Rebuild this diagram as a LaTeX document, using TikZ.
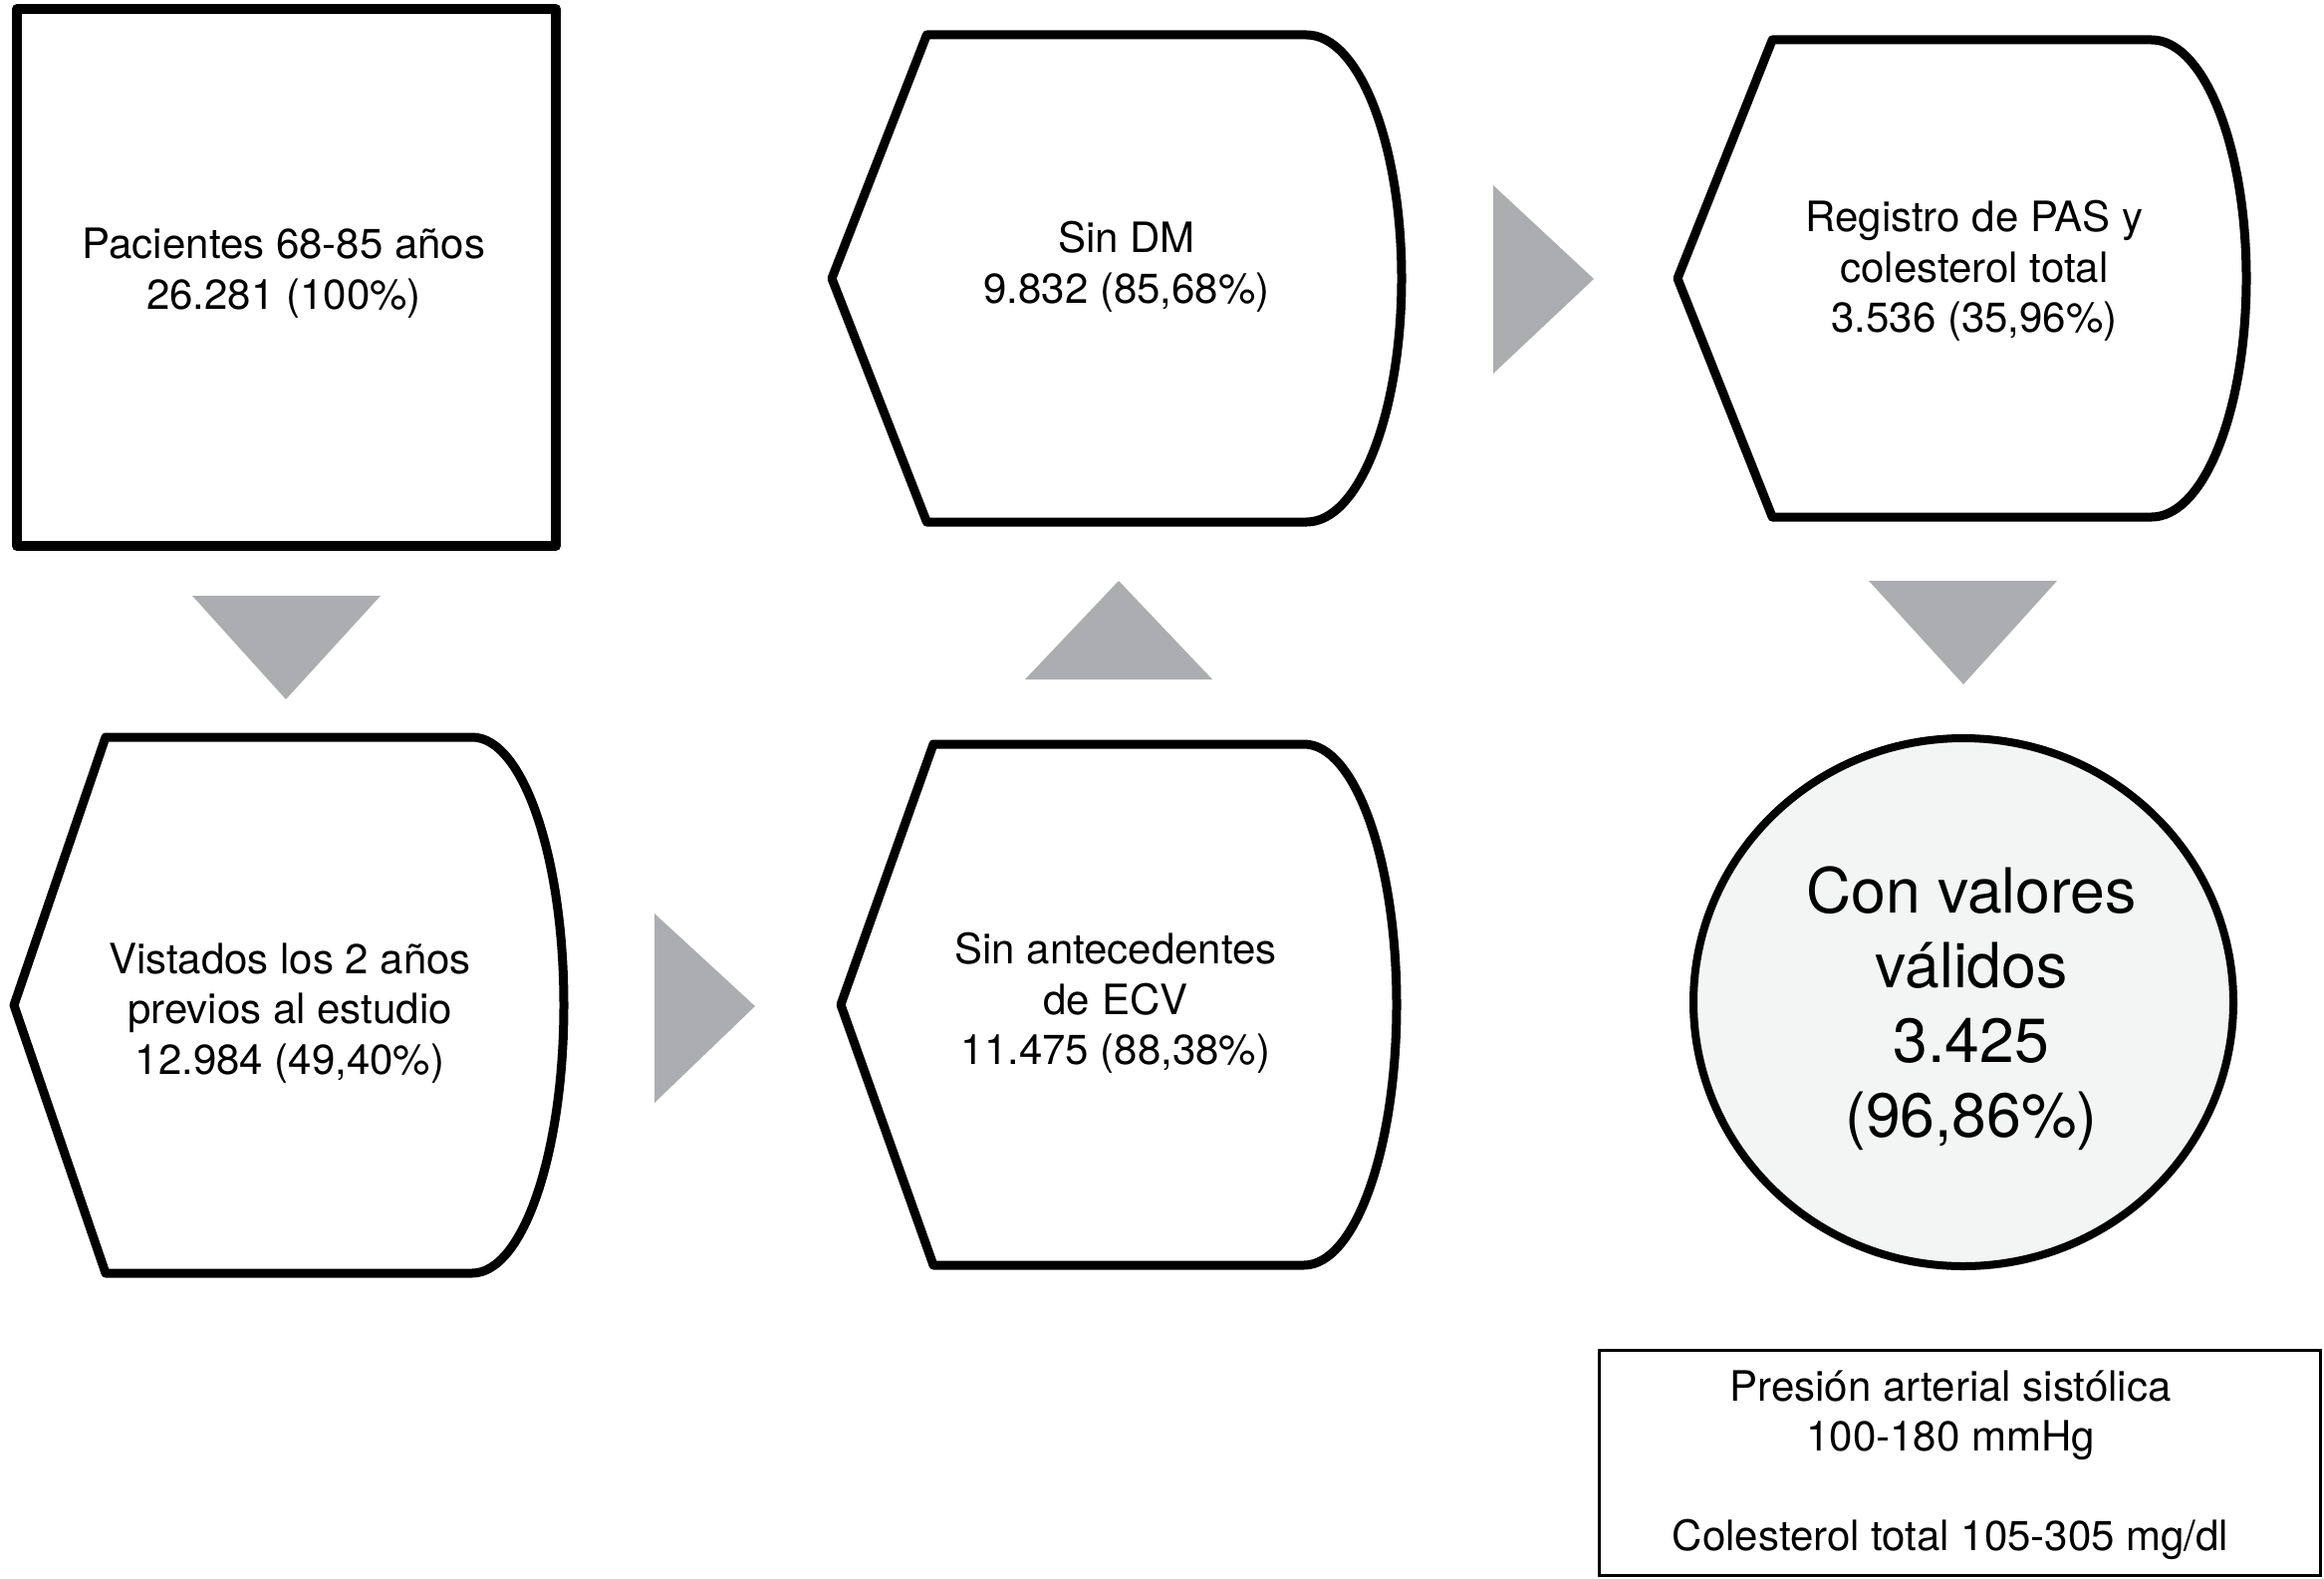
\documentclass[tikz,border=0pt]{standalone}
\usepackage{fontspec}
\setmainfont{TeX Gyre Heros}
\definecolor{arrowgray}{RGB}{172,173,177}
\definecolor{circfill}{RGB}{243,244,244}
\newcommand{\dispshape}[4]{%
  \pgfmathsetmacro{\dsA}{(#2-#1)/6}%
  \pgfmathsetmacro{\dsCL}{#1+\dsA}%
  \pgfmathsetmacro{\dsCR}{#2-\dsA}%
  \pgfmathsetmacro{\dsMY}{(#3+#4)/2}%
  \pgfmathsetmacro{\dsKX}{\dsCR+0.5523*\dsA}%
  \pgfmathsetmacro{\dsKY}{0.5523*(#4-#3)/2}%
  \pgfmathsetmacro{\dsUY}{\dsMY-\dsKY}%
  \pgfmathsetmacro{\dsDY}{\dsMY+\dsKY}%
  \draw[shapeline] (#1,\dsMY) -- (\dsCL,#3) -- (\dsCR,#3)
    .. controls (\dsKX,#3) and (#2,\dsUY) .. (#2,\dsMY)
    .. controls (#2,\dsDY) and (\dsKX,#4) .. (\dsCR,#4)
    -- (\dsCL,#4) -- cycle;%
}
\begin{document}
\begin{tikzpicture}[x=1pt,y=-1pt,
  shapeline/.style={line width=9pt, line join=round, draw=black, fill=white},
  tri/.style={fill=arrowgray, draw=none},
  boxtext/.style={align=center, inner sep=0pt, font=\fontsize{42}{50.5}\selectfont},
  bigtext/.style={align=center, inner sep=0pt, font=\fontsize{62.5}{75}\selectfont},
  notetext/.style={align=center, inner sep=0pt, font=\fontsize{42}{50}\selectfont}]
\useasboundingbox (0,0) rectangle (2333,1584);
\fill[white] (0,0) rectangle (2333,1584);

% square box
\draw[shapeline, line width=10pt] (17,9) rectangle (558,548);
\node[boxtext] (pac) at (285,274) {Pacientes 68-85 años\\26.281 (100\%)};

% display shapes
\dispshape{835}{1407}{35}{524}
\node[boxtext] (sindm) at (1131,268) {Sin DM\\9.832 (85,68\%)};

\dispshape{1684}{2255}{40}{519}
\node[boxtext] (reg) at (1982,272) {Registro de PAS y\\colesterol total\\3.536 (35,96\%)};

\dispshape{14}{566}{740}{1278}
\node[boxtext] (vis) at (291,1017) {Vistados los 2 años\\previos al estudio\\12.984 (49,40\%)};

\dispshape{844}{1402}{747}{1270}
\node[boxtext] (sae) at (1120,1007) {Sin antecedentes\\de ECV\\11.475 (88,38\%)};

% gray triangles
\fill[tri] (193,598) -- (382,598) -- (287,702) -- cycle;
\fill[tri] (657,917) -- (657,1107) -- (758,1010) -- cycle;
\fill[tri] (1029,682) -- (1217,682) -- (1123,583) -- cycle;
\fill[tri] (1499,186) -- (1499,375) -- (1600,280) -- cycle;
\fill[tri] (1876,583) -- (2065,583) -- (1971,687) -- cycle;

% circle
\draw[line width=8pt, fill=circfill] (1971,1006) ellipse [x radius=271, y radius=265];
\node[bigtext] (val) at (1979,1012) {Con valores\\válidos\\3.425\\(96,86\%)};

% note box
\draw[line width=3pt] (1605,1355) rectangle (2329,1581);
\node[notetext] (note) at (1958,1471) {Presión arterial sistólica\\100-180 mmHg\\[50pt]Colesterol total 105-305 mg/dl};
\end{tikzpicture}
\end{document}
